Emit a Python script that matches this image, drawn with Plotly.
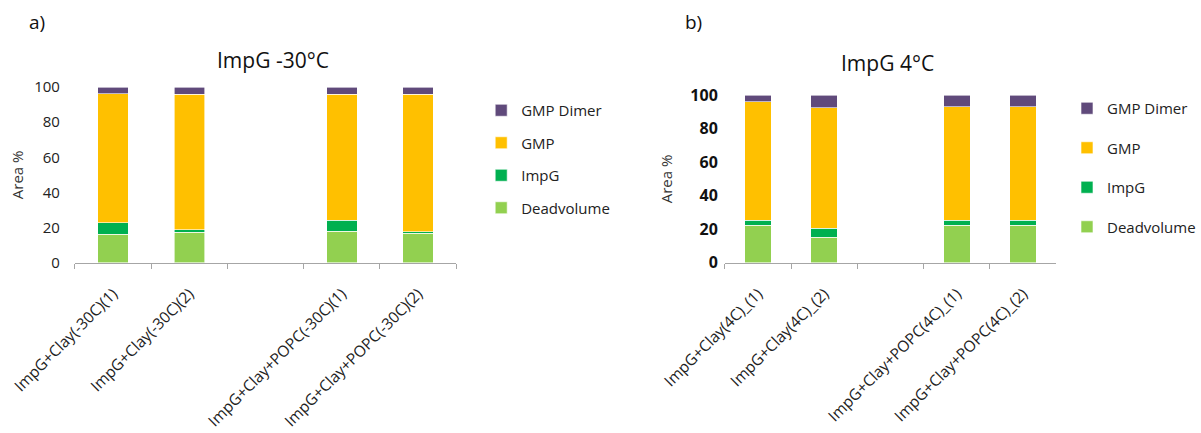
import plotly.graph_objects as go

# ---- data ----
cats_a = ["ImpG+Clay(-30C)(1)", "ImpG+Clay(-30C)(2)", " ", "ImpG+Clay+POPC(-30C)(1)", "ImpG+Clay+POPC(-30C)(2)"]
cats_b = ["ImpG+Clay(4C)_(1)", "ImpG+Clay(4C)_(2)", " ", "ImpG+Clay+POPC(4C)_(1)", "ImpG+Clay+POPC(4C)_(2)"]

dead_a = [16.2, 17.3, None, 18.0, 16.7]
impg_a = [6.6, 1.5, None, 6.2, 1.0]
gmp_a = [73.5, 77.2, None, 71.8, 78.3]
dimer_a = [3.7, 4.0, None, 4.0, 4.0]

dead_b = [22.5, 15.2, None, 22.5, 22.5]
impg_b = [3.0, 5.5, None, 3.0, 3.0]
gmp_b = [70.7, 71.9, None, 67.7, 67.7]
dimer_b = [3.8, 7.4, None, 6.8, 6.8]

series_names = ["Deadvolume", "ImpG", "GMP", "GMP Dimer"]
colors = ["#92D050", "#00B050", "#FFC000", "#604A7B"]
legend_ranks = [4, 3, 2, 1]

W, H = 1201, 433
def px_x(v): return v / W
def px_y(v): return 1 - v / H

FAM = "Open Sans, Noto Sans, sans-serif"

fig = go.Figure()

for (cats, vals, xa, ya, leg) in [
    (cats_a, [dead_a, impg_a, gmp_a, dimer_a], "x", "y", "legend"),
    (cats_b, [dead_b, impg_b, gmp_b, dimer_b], "x2", "y2", "legend2"),
]:
    for name, col, v, rk in zip(series_names, colors, vals, legend_ranks):
        fig.add_trace(go.Bar(
            x=cats, y=v, name=name, xaxis=xa, yaxis=ya, legend=leg,
            legendgroup=name + leg, legendrank=rk,
            marker=dict(color=col, line=dict(color="white", width=0.6)),
        ))

axis_font = dict(family=FAM, size=15.5, color="#222222")

fig.update_layout(
    template="none",
    width=W, height=H,
    margin=dict(l=0, r=0, t=0, b=0),
    paper_bgcolor="white", plot_bgcolor="white",
    barmode="stack", bargap=0.6,
    font=dict(family=FAM, size=14, color="#222222"),
    xaxis=dict(domain=[px_x(75), px_x(457)], anchor="y", type="category", automargin=False,
               categoryorder="array", categoryarray=cats_a,
               tickson="boundaries", ticks="outside", ticklen=5, tickcolor="#A6A6A6",
               showline=True, linecolor="#A6A6A6", linewidth=1, tickangle=-45,
               ticklabelstandoff=15,
               tickfont=axis_font, showgrid=False, zeroline=False),
    yaxis=dict(domain=[px_y(262.7), px_y(87)], anchor="x", range=[0, 100], automargin=False,
               tickvals=[0, 20, 40, 60, 80, 100], showgrid=False, zeroline=False,
               showline=False, ticks="", ticklabelstandoff=14,
               tickfont=dict(family=FAM, size=15, color="#222222"),
               title=dict(text="Area %", font=dict(size=15, color="#333333"), standoff=6)),
    xaxis2=dict(domain=[px_x(726), px_x(1058)], anchor="y2", type="category", automargin=False,
                categoryorder="array", categoryarray=cats_b,
                tickson="boundaries", ticks="outside", ticklen=5, tickcolor="#A6A6A6",
                showline=True, linecolor="#A6A6A6", linewidth=1, tickangle=-45,
                ticklabelstandoff=15,
                tickfont=axis_font, showgrid=False, zeroline=False),
    yaxis2=dict(domain=[px_y(262.7), px_y(95.3)], anchor="x2", range=[0, 100], automargin=False,
                tickvals=[0, 20, 40, 60, 80, 100], showgrid=False, zeroline=False,
                showline=False, ticks="", ticklabelstandoff=6,
                tickfont=dict(family=FAM, size=16, color="#111111", weight="bold"),
                title=dict(text="Area %", font=dict(size=15, color="#333333"), standoff=14)),
    legend=dict(x=px_x(482), y=px_y(94), xanchor="left", yanchor="top",
                traceorder="grouped", tracegroupgap=10,
                font=dict(size=15, color="#222222"), bgcolor="rgba(0,0,0,0)"),
    legend2=dict(x=px_x(1069), y=px_y(92), xanchor="left", yanchor="top",
                 traceorder="grouped", tracegroupgap=17,
                 font=dict(size=15, color="#222222"), bgcolor="rgba(0,0,0,0)"),
    annotations=[
        dict(text="a)", x=px_x(27), y=px_y(22), xref="paper", yref="paper",
             xanchor="left", yanchor="middle", showarrow=False, font=dict(size=19, color="#111111")),
        dict(text="b)", x=px_x(684), y=px_y(22), xref="paper", yref="paper",
             xanchor="left", yanchor="middle", showarrow=False, font=dict(size=19, color="#111111")),
        dict(text="ImpG -30°C", x=px_x(273), y=px_y(60), xref="paper", yref="paper",
             xanchor="center", yanchor="middle", showarrow=False, font=dict(size=21, color="#111111")),
        dict(text="ImpG 4°C", x=px_x(889), y=px_y(63), xref="paper", yref="paper",
             xanchor="center", yanchor="middle", showarrow=False, font=dict(size=21, color="#111111")),
    ],
)

fig.write_html("out.html")
